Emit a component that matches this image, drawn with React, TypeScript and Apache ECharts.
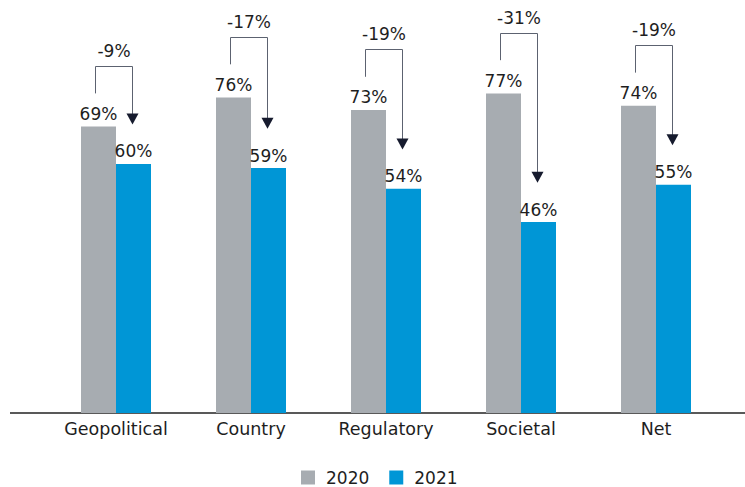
import React, { useEffect, useRef } from "react";
import * as echarts from "echarts";

const categories = ["Geopolitical", "Country", "Regulatory", "Societal", "Net"];
const seriesNames = ["2020", "2021"];
const values2020 = [69, 76, 73, 77, 74];
const values2021 = [60, 59, 54, 46, 55];
const changeLabels = ["-9%", "-17%", "-19%", "-31%", "-19%"];

const GRAY = "#a7acb1";
const BLUE = "#0096d6";
const LINE = "#5c6270";
const DARK = "#161b2e";
const TEXT = "#1e1e1e";
const FONT = "DejaVu Sans";

export default function App() {
  const ref = useRef<HTMLDivElement>(null);
  useEffect(() => {
    const chart = echarts.init(ref.current!, null, { renderer: "svg" });
    chart.setOption({
      animation: false,
      textStyle: { fontFamily: FONT },
      grid: { left: 48.5, right: 21.5, top: 0, bottom: 74 },
      legend: {
        data: seriesNames,
        left: 301,
        top: 469,
        padding: 0,
        icon: "rect",
        itemWidth: 14,
        itemHeight: 14,
        itemGap: 20,
        textStyle: { fontSize: 17, lineHeight: 17, color: TEXT, fontFamily: FONT, padding: [0, 0, 0, 6] },
      },
      xAxis: {
        type: "category",
        data: categories,
        axisLine: { show: false },
        axisTick: { show: false },
        axisLabel: { fontSize: 17.5, color: TEXT, margin: 7, fontFamily: FONT },
      },
      yAxis: { type: "value", min: 0, max: 99.5, show: false },
      series: [
        {
          name: seriesNames[0],
          type: "bar",
          data: values2020,
          barWidth: 35,
          barGap: "0%",
          itemStyle: { color: GRAY },
          label: { show: true, position: "top", distance: 4, formatter: "{c}%", fontSize: 17, color: TEXT, fontFamily: FONT },
        },
        {
          name: seriesNames[1],
          type: "bar",
          data: values2021,
          barWidth: 35,
          barGap: "0%",
          itemStyle: { color: BLUE },
          label: { show: true, position: "top", distance: 4, formatter: "{c}%", fontSize: 17, color: TEXT, fontFamily: FONT },
        },
        {
          type: "custom",
          silent: true,
          z: 5,
          data: categories.map((_, i) => [i, values2020[i], values2021[i]]),
          renderItem: (params: any, api: any) => {
            const i = api.value(0);
            const g = api.value(1);
            const b = api.value(2);
            const topPt = api.coord([i, g + 14.6]);
            const cx = topPt[0];
            const leftX = Math.round(cx - 21) + 0.5;
            const rightX = Math.round(cx + 16) + 0.5;
            const topY = Math.round(topPt[1]) + 0.5;
            const lowY = api.coord([i, g + 8])[1];
            const tipY = api.coord([i, b + 9.5])[1];
            return {
              type: "group",
              children: [
                {
                  type: "polyline",
                  shape: { points: [[leftX, lowY], [leftX, topY], [rightX, topY], [rightX, tipY - 10]] },
                  style: { stroke: LINE, lineWidth: 1, fill: null },
                },
                {
                  type: "polygon",
                  shape: { points: [[rightX - 6, tipY - 11], [rightX + 6, tipY - 11], [rightX, tipY]] },
                  style: { fill: DARK },
                },
                {
                  type: "text",
                  style: {
                    text: changeLabels[i],
                    x: (leftX + rightX) / 2,
                    y: topY - 7,
                    align: "center",
                    verticalAlign: "bottom",
                    fontSize: 17,
                    fontFamily: FONT,
                    fill: TEXT,
                  },
                },
              ],
            };
          },
        },
      ],
      graphic: [
        {
          type: "line",
          shape: { x1: 10, y1: 413, x2: 745, y2: 413 },
          style: { stroke: "#222", lineWidth: 1.5 },
        },
      ],
    });
    return () => chart.dispose();
  }, []);
  return <div ref={ref} style={{ position: "absolute", left: 0, top: 0, width: 745, height: 487 }} />;
}
